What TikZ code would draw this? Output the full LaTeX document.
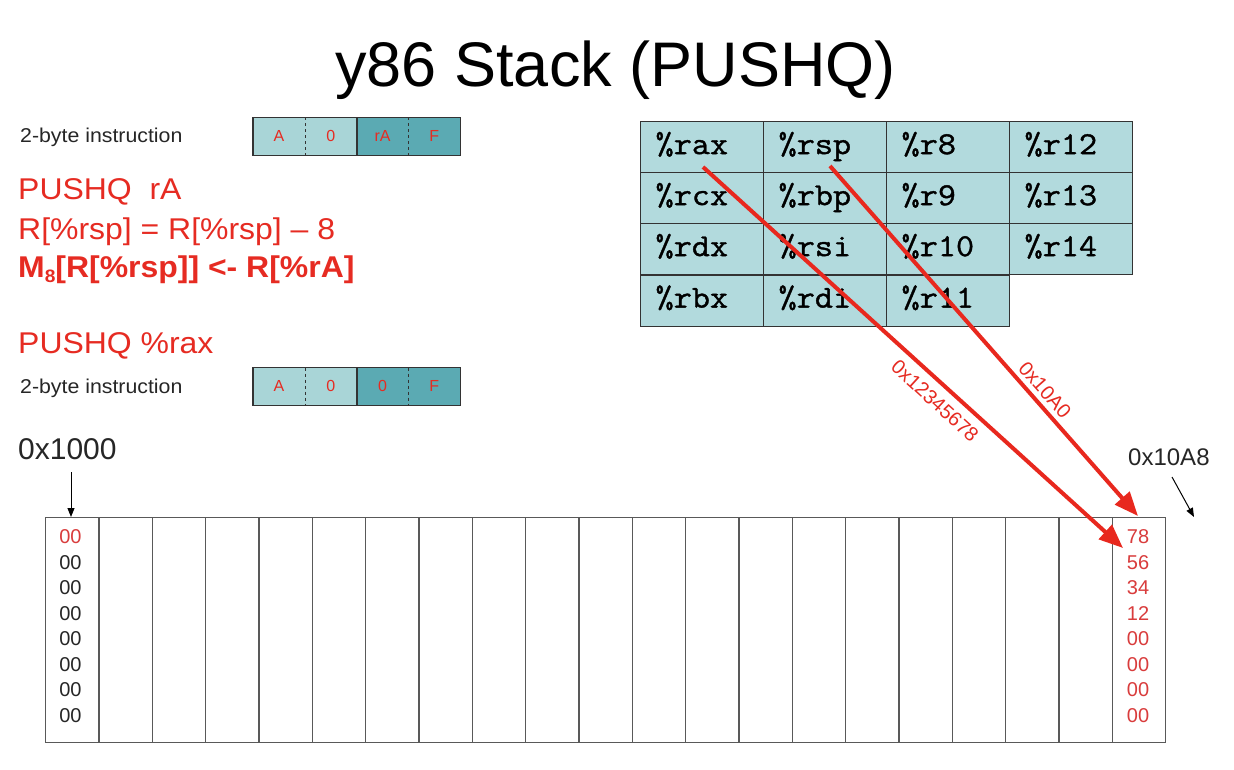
\documentclass[tikz,border=0pt]{standalone}
\usepackage{fontspec}
\setmainfont{Liberation Sans}
\newfontfamily\widefont[FakeStretch=1.065]{Liberation Sans}
\newfontfamily\regfont[FakeStretch=1.1, RawFeature={embolden=1.2}]{Latin Modern Mono}
\usetikzlibrary{arrows.meta}
\definecolor{tealL}{HTML}{A9D5D7}
\definecolor{tealD}{HTML}{5BAAB3}
\definecolor{regfill}{HTML}{B2DADD}
\definecolor{slred}{HTML}{E8281E}
\definecolor{txtred}{HTML}{E62B22}
\definecolor{byred}{HTML}{D93C3C}
\tikzset{
  fs/.style={font=\fontsize{#1}{#1}\selectfont},
  wfs/.style={font=\widefont\fontsize{#1}{#1}\selectfont},
  txt/.style={anchor=base west, inner sep=0pt},
  reg/.style={draw=black!80, fill=regfill, line width=1.2pt, minimum width=123pt,
    minimum height=51pt, inner xsep=15pt, text width=93pt, align=left,
    text height=20pt, text depth=6pt,
    font=\regfont\fontsize{32}{32}\selectfont, anchor=north west},
  mem/.style={draw=black!65, line width=1.2pt, minimum width=53.33pt,
    minimum height=224.5pt, anchor=north west, inner sep=0pt},
  byte/.style={font=\fontsize{20}{20}\selectfont, inner sep=0pt},
  icell/.style={minimum width=51.75pt, minimum height=37.5pt, inner sep=0pt,
    anchor=north west, text=txtred, font=\fontsize{16}{16}\selectfont},
  bigarrow/.style={draw=slred, line width=4pt, -{Triangle[length=24pt,width=19pt]}},
  thinarrow/.style={draw=black, line width=1pt, -{Triangle[length=9pt,width=7pt]}},
  arrlabel/.style={text=txtred, font=\fontsize{20}{20}\selectfont, inner sep=0pt}
}
\begin{document}
\begin{tikzpicture}[x=1pt,y=-1pt]
\useasboundingbox (0,0) rectangle (1234,770);
\fill[white] (0,0) rectangle (1234,770);

% title
\node[anchor=base, inner sep=0pt, fs=63] (title) at (615.5,87) {y86 Stack (PUSHQ)};

% left texts
\node[txt, wfs=20, text=black!85] (lab1) at (20,143) {2-byte instruction};
\node[txt, wfs=30, text=txtred] (push) at (18,200) {PUSHQ\ \ rA};
\node[txt, wfs=30, text=txtred] (eq1) at (18,240) {R[\%rsp] = R[\%rsp] – 8};
\node[txt, text=txtred, font=\widefont\bfseries\fontsize{30}{30}\selectfont] (eq2) at (18,277) {M\raisebox{-5pt}{\fontsize{18}{18}\selectfont 8}[R[\%rsp]] <- R[\%rA]};
\node[txt, wfs=30, text=txtred] (push2) at (18,353) {PUSHQ \%rax};
\node[txt, wfs=20, text=black!85] (lab2) at (20,393) {2-byte instruction};

% instruction boxes
\foreach \yy/\nm/\t in {117.5/ia/rA, 367.5/ib/0}{
  \node[icell, fill=tealL] (\nm1) at (253,\yy) {A};
  \node[icell, fill=tealL] (\nm2) at (304.75,\yy) {0};
  \node[icell, fill=tealD] (\nm3) at (356.5,\yy) {\t};
  \node[icell, fill=tealD] (\nm4) at (408.25,\yy) {F};
  \draw[black!80, line width=1.3pt] (\nm1.north west) rectangle (\nm4.south east);
  \draw[black!80, line width=1pt, dashed] (\nm1.north east) -- (\nm1.south east);
  \draw[black!80, line width=1.2pt] (\nm2.north east) -- (\nm2.south east);
  \draw[black!80, line width=1pt, dashed] (\nm3.north east) -- (\nm3.south east);
}

% register file
\node[reg] (rax) at (640,121) {\%rax};
\node[reg] (rsp) at (763,121) {\%rsp};
\node[reg] (r8)  at (886,121) {\%r8};
\node[reg] (r12) at (1009,121) {\%r12};
\node[reg] (rcx) at (640,172) {\%rcx};
\node[reg] (rbp) at (763,172) {\%rbp};
\node[reg] (r9)  at (886,172) {\%r9};
\node[reg] (r13) at (1009,172) {\%r13};
\node[reg] (rdx) at (640,223) {\%rdx};
\node[reg] (rsi) at (763,223) {\%rsi};
\node[reg] (r10) at (886,223) {\%r10};
\node[reg] (r14) at (1009,223) {\%r14};
\node[reg] (rbx) at (640,274.5) {\%rbx};
\node[reg] (rdi) at (763,274.5) {\%rdi};
\node[reg] (r11) at (886,274.5) {\%r11};

% memory
\foreach \i in {1,...,21}{
  \node[mem] (m\i) at ({45+(\i-1)*53.333},517) {};
}
\foreach \v [count=\k] in {00,00,00,00,00,00,00,00}{
  \ifnum\k=1
    \node[byte, text=byred] (a\k) at (70.5,{537+(\k-1)*25.5}) {\v};
  \else
    \node[byte, text=black!85] (a\k) at (70.5,{537+(\k-1)*25.5}) {\v};
  \fi
}
\foreach \v [count=\k] in {78,56,34,12,00,00,00,00}{
  \node[byte, text=byred] (b\k) at (1138,{537+(\k-1)*25.5}) {\v};
}

% address labels
\node[txt, fs=30, text=black!85] (addr0) at (18,459) {0x1000};
\node[txt, fs=24, text=black!85] (addr1) at (1128,465) {0x10A8};
\coordinate (a0s) at (71,472);
\coordinate (a0e) at (71,517);
\draw[thinarrow] (a0s) -- (a0e);
\coordinate (a1s) at (1172,477);
\coordinate (a1e) at (1194,517);
\draw[thinarrow] (a1s) -- (a1e);

% red arrows
\coordinate (raxsrc) at (703,167);
\coordinate (raxdst) at (1123,548);
\coordinate (rspsrc) at (830,166);
\coordinate (rspdst) at (1138,516);
\draw[bigarrow] (raxsrc) -- (raxdst);
\draw[bigarrow] (rspsrc) -- (rspdst);
\node[arrlabel, rotate=-42.5] (lv1) at (935,401) {0x12345678};
\node[arrlabel, rotate=-48.5] (lv2) at (1045,390) {0x10A0};
\end{tikzpicture}
\end{document}
